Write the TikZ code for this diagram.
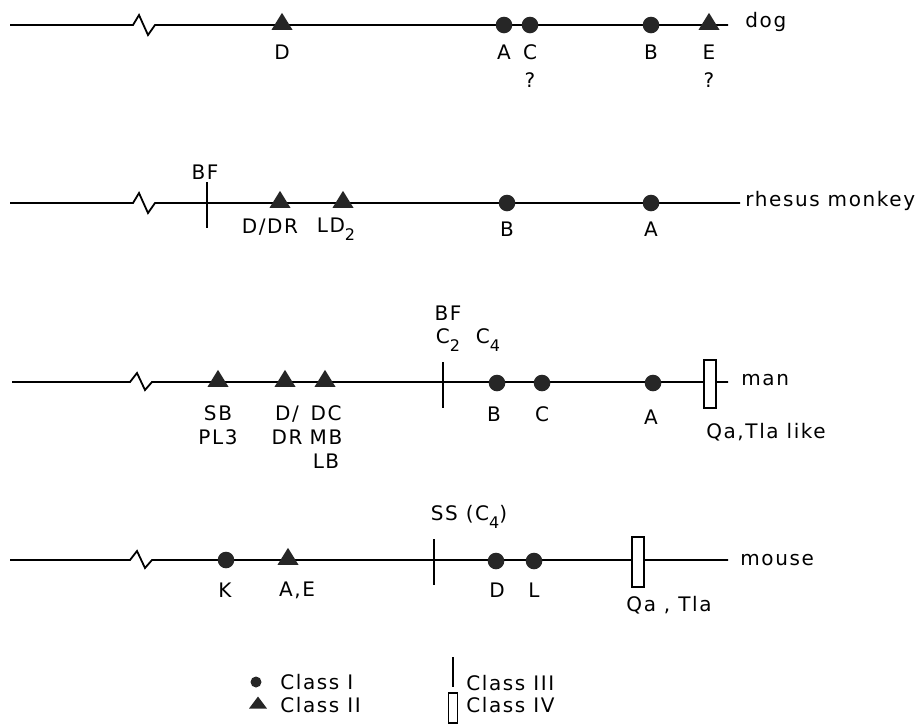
\documentclass[tikz,border=0pt]{standalone}
\usepackage{fontspec}
\setmainfont{DejaVu Sans}[LetterSpace=8]
\usetikzlibrary{shapes.geometric}

\newcommand{\lowsub}[1]{\raisebox{-0.7ex}{\footnotesize #1}}

\begin{document}
\begin{tikzpicture}[
        x=0.5pt, y=-0.5pt,
        every node/.style={font=\fontsize{10}{12}\selectfont},
        chrom/.style={line width=0.9pt, draw=black},
        classone/.style={circle, fill=black!85, minimum size=8.3pt, inner sep=0pt},
        classtwo/.style={isosceles triangle, isosceles triangle stretches, shape border rotate=90,
            fill=black!85, minimum width=10.5pt, minimum height=8.5pt, inner sep=0pt},
        classthree/.style={rectangle, fill=black, minimum width=1.1pt, minimum height=23pt, inner sep=0pt},
        classfour/.style={rectangle, draw=black, line width=0.9pt, fill=white,
            minimum width=6pt, minimum height=24pt, inner sep=0pt},
        lbl/.style={inner sep=0pt}
    ]
        \useasboundingbox (0,0) rectangle (922,724);

        % dog
        \coordinate (d0) at (10,25);
        \coordinate (d1) at (728,25);
        \draw[chrom] (d0) -- (133,25) -- (139,15) -- (148,35) -- (155,25) -- (d1);
        \node[classtwo] (dD) at (282,24) {};
        \node[classone] (dA) at (504,25) {};
        \node[classone] (dC) at (530,25) {};
        \node[classone] (dB) at (651,25) {};
        \node[classtwo] (dE) at (709,24) {};
        \node[lbl] (dDl) at (282,52) {D};
        \node[lbl] (dAl) at (504,52) {A};
        \node[lbl] (dCl) at (530,52) {C};
        \node[lbl] (dCq) at (530,80) {?};
        \node[lbl] (dBl) at (651,52) {B};
        \node[lbl] (dEl) at (709,52) {E};
        \node[lbl] (dEq) at (709,80) {?};
        \node[lbl, anchor=west] (dog) at (745,22) {dog};

        % rhesus monkey
        \coordinate (r0) at (10,203);
        \coordinate (r1) at (740,203);
        \draw[chrom] (r0) -- (133,203) -- (139,193) -- (148,213) -- (155,203) -- (r1);
        \node[classthree] (rBF) at (207,205) {};
        \node[lbl] (rBFl) at (205,172) {BF};
        \node[classtwo] (rDDR) at (280,202) {};
        \node[classtwo] (rLD) at (343,202) {};
        \node[classone] (rB) at (507,203) {};
        \node[classone] (rA) at (651,203) {};
        \node[lbl] (rDDRl) at (270,227) {D/DR};
        \node[lbl] (rLDl) at (336,229) {LD\lowsub{2}};
        \node[lbl] (rBl) at (507,229) {B};
        \node[lbl] (rAl) at (651,229) {A};
        \node[lbl, anchor=west] (rhesus) at (745,201) {rhesus monkey};

        % man
        \coordinate (m0) at (12,382);
        \coordinate (m1) at (728,382);
        \draw[chrom] (m0) -- (130,382) -- (137,373) -- (145,390) -- (152,382) -- (m1);
        \node[classtwo] (mSB) at (218,381) {};
        \node[classtwo] (mD) at (285,381) {};
        \node[classtwo] (mDC) at (325,381) {};
        \node[classthree] (mBF) at (443,385) {};
        \node[classone] (mB) at (497,383) {};
        \node[classone] (mC) at (542,383) {};
        \node[classone] (mA) at (653,383) {};
        \node[classfour] (mQa) at (710,384) {};
        \node[lbl] (mBFl) at (448,313) {BF};
        \node[lbl] (mCtwo) at (448,340) {C\lowsub{2}};
        \node[lbl] (mCfour) at (488,340) {C\lowsub{4}};
        \node[lbl, align=center] (mSBl) at (218,425) {SB\\PL3};
        \node[lbl, align=center] (mDl) at (287,425) {D/\\DR};
        \node[lbl, align=center] (mDCl) at (326,437) {DC\\MB\\LB};
        \node[lbl] (mBl) at (494,414) {B};
        \node[lbl] (mCl) at (542,414) {C};
        \node[lbl] (mAl) at (651,417) {A};
        \node[lbl] (mQal) at (766,432) {Qa,Tla like};
        \node[lbl, anchor=west] (man) at (741,380) {man};

        % mouse
        \coordinate (o0) at (10,560);
        \coordinate (o1) at (728,560);
        \draw[chrom] (o0) -- (130,560) -- (137,551) -- (145,568) -- (152,560) -- (o1);
        \node[classone] (oK) at (226,560) {};
        \node[classtwo] (oAE) at (288,559) {};
        \node[classthree] (oSS) at (434,562) {};
        \node[classone] (oD) at (496,561) {};
        \node[classone] (oL) at (534,561) {};
        \node[classfour, minimum height=25pt] (oQa) at (638,562) {};
        \node[lbl] (oSSl) at (469,517) {SS (C\lowsub{4})};
        \node[lbl] (oKl) at (225,590) {K};
        \node[lbl] (oAEl) at (297,590) {A,E};
        \node[lbl] (oDl) at (497,590) {D};
        \node[lbl] (oLl) at (534,590) {L};
        \node[lbl] (oQal) at (669,605) {Qa , Tla};
        \node[lbl, anchor=west] (mouse) at (740,560) {mouse};

        % legend
        \node[classone, minimum size=5.5pt] (kOne) at (256,682) {};
        \node[classtwo, minimum width=9pt, minimum height=6pt] (kTwo) at (258,704) {};
        \node[classthree, minimum height=15pt] (kThree) at (453,672) {};
        \node[classfour, minimum width=4.5pt, minimum height=15pt] (kFour) at (453,708) {};
        \node[lbl, anchor=west] (kOnel) at (280,682) {Class I};
        \node[lbl, anchor=west] (kTwol) at (280,705) {Class II};
        \node[lbl, anchor=west] (kThreel) at (466,683) {Class III};
        \node[lbl, anchor=west] (kFourl) at (466,705) {Class IV};
    \end{tikzpicture}
\end{document}
